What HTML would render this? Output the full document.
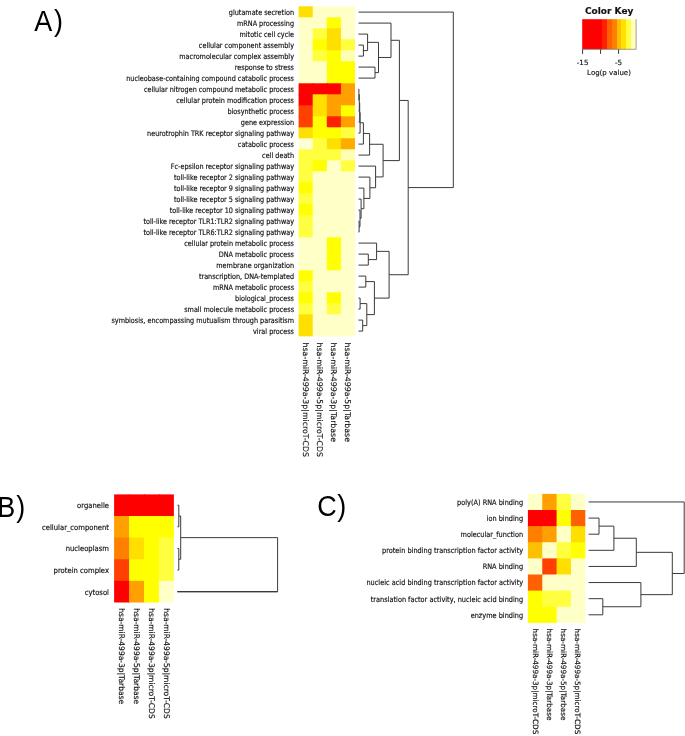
<!DOCTYPE html>
<html><head><meta charset="utf-8"><title>Figure</title>
<style>
html,body{margin:0;padding:0;background:#fff;}
body{width:685px;height:736px;overflow:hidden;}
svg{display:block;}
.c{font-family:"DejaVu Sans Condensed","DejaVu Sans","Liberation Sans",sans-serif;fill:#111;stroke:#111;stroke-width:0.15px;}
.n{font-family:"DejaVu Sans","Liberation Sans",sans-serif;fill:#111;stroke:#111;stroke-width:0.15px;}
.b{font-family:"Liberation Sans","DejaVu Sans",sans-serif;fill:#000;}
</style></head><body>
<svg width="685" height="736" viewBox="0 0 685 736">
<rect x="0" y="0" width="685" height="736" fill="#ffffff"/>
<g>
<rect x="298.60" y="6.30" width="15.10" height="12.00" fill="#FFDF00"/>
<rect x="312.70" y="6.30" width="15.10" height="12.00" fill="#FFFFC8"/>
<rect x="326.80" y="6.30" width="15.10" height="12.00" fill="#FFFFC8"/>
<rect x="340.90" y="6.30" width="14.10" height="12.00" fill="#FFFFC8"/>
<rect x="298.60" y="17.30" width="15.10" height="12.00" fill="#FFFFC8"/>
<rect x="312.70" y="17.30" width="15.10" height="12.00" fill="#FFFFC8"/>
<rect x="326.80" y="17.30" width="15.10" height="12.00" fill="#FFFF00"/>
<rect x="340.90" y="17.30" width="14.10" height="12.00" fill="#FFFFC8"/>
<rect x="298.60" y="28.30" width="15.10" height="12.00" fill="#FFFFC8"/>
<rect x="312.70" y="28.30" width="15.10" height="12.00" fill="#FFFF40"/>
<rect x="326.80" y="28.30" width="15.10" height="12.00" fill="#FFDF00"/>
<rect x="340.90" y="28.30" width="14.10" height="12.00" fill="#FFFFC8"/>
<rect x="298.60" y="39.30" width="15.10" height="12.00" fill="#FFFFC8"/>
<rect x="312.70" y="39.30" width="15.10" height="12.00" fill="#FFFF00"/>
<rect x="326.80" y="39.30" width="15.10" height="12.00" fill="#FFDF00"/>
<rect x="340.90" y="39.30" width="14.10" height="12.00" fill="#FFFF40"/>
<rect x="298.60" y="50.30" width="15.10" height="12.00" fill="#FFFFC8"/>
<rect x="312.70" y="50.30" width="15.10" height="12.00" fill="#FFFF40"/>
<rect x="326.80" y="50.30" width="15.10" height="12.00" fill="#FFFF00"/>
<rect x="340.90" y="50.30" width="14.10" height="12.00" fill="#FFFFB4"/>
<rect x="298.60" y="61.30" width="15.10" height="12.00" fill="#FFFFC8"/>
<rect x="312.70" y="61.30" width="15.10" height="12.00" fill="#FFFFC8"/>
<rect x="326.80" y="61.30" width="15.10" height="12.00" fill="#FFFF00"/>
<rect x="340.90" y="61.30" width="14.10" height="12.00" fill="#FFFF00"/>
<rect x="298.60" y="72.30" width="15.10" height="12.00" fill="#FFFFC8"/>
<rect x="312.70" y="72.30" width="15.10" height="12.00" fill="#FFFFC8"/>
<rect x="326.80" y="72.30" width="15.10" height="12.00" fill="#FFFF00"/>
<rect x="340.90" y="72.30" width="14.10" height="12.00" fill="#FFFF00"/>
<rect x="298.60" y="83.30" width="15.10" height="12.00" fill="#FF0000"/>
<rect x="312.70" y="83.30" width="15.10" height="12.00" fill="#FF0000"/>
<rect x="326.80" y="83.30" width="15.10" height="12.00" fill="#FF0000"/>
<rect x="340.90" y="83.30" width="14.10" height="12.00" fill="#FFA000"/>
<rect x="298.60" y="94.30" width="15.10" height="12.00" fill="#FF0000"/>
<rect x="312.70" y="94.30" width="15.10" height="12.00" fill="#FFDF00"/>
<rect x="326.80" y="94.30" width="15.10" height="12.00" fill="#FFA000"/>
<rect x="340.90" y="94.30" width="14.10" height="12.00" fill="#FFA000"/>
<rect x="298.60" y="105.30" width="15.10" height="12.00" fill="#FF4000"/>
<rect x="312.70" y="105.30" width="15.10" height="12.00" fill="#FFDF00"/>
<rect x="326.80" y="105.30" width="15.10" height="12.00" fill="#FFA000"/>
<rect x="340.90" y="105.30" width="14.10" height="12.00" fill="#FFFF00"/>
<rect x="298.60" y="116.30" width="15.10" height="12.00" fill="#FF4000"/>
<rect x="312.70" y="116.30" width="15.10" height="12.00" fill="#FFFF00"/>
<rect x="326.80" y="116.30" width="15.10" height="12.00" fill="#FF2000"/>
<rect x="340.90" y="116.30" width="14.10" height="12.00" fill="#FFA000"/>
<rect x="298.60" y="127.30" width="15.10" height="12.00" fill="#FFDF00"/>
<rect x="312.70" y="127.30" width="15.10" height="12.00" fill="#FFFF00"/>
<rect x="326.80" y="127.30" width="15.10" height="12.00" fill="#FFFF00"/>
<rect x="340.90" y="127.30" width="14.10" height="12.00" fill="#FFFF40"/>
<rect x="298.60" y="138.30" width="15.10" height="12.00" fill="#FFFFD4"/>
<rect x="312.70" y="138.30" width="15.10" height="12.00" fill="#FFFF40"/>
<rect x="326.80" y="138.30" width="15.10" height="12.00" fill="#FFDF00"/>
<rect x="340.90" y="138.30" width="14.10" height="12.00" fill="#FFAC00"/>
<rect x="298.60" y="149.30" width="15.10" height="12.00" fill="#FFFF40"/>
<rect x="312.70" y="149.30" width="15.10" height="12.00" fill="#FFFF40"/>
<rect x="326.80" y="149.30" width="15.10" height="12.00" fill="#FFFF40"/>
<rect x="340.90" y="149.30" width="14.10" height="12.00" fill="#FFFFB4"/>
<rect x="298.60" y="160.30" width="15.10" height="12.00" fill="#FFFF40"/>
<rect x="312.70" y="160.30" width="15.10" height="12.00" fill="#FFFF00"/>
<rect x="326.80" y="160.30" width="15.10" height="12.00" fill="#FFFFC8"/>
<rect x="340.90" y="160.30" width="14.10" height="12.00" fill="#FFFF40"/>
<rect x="298.60" y="171.30" width="15.10" height="12.00" fill="#FFFF40"/>
<rect x="312.70" y="171.30" width="15.10" height="12.00" fill="#FFFFC8"/>
<rect x="326.80" y="171.30" width="15.10" height="12.00" fill="#FFFFC8"/>
<rect x="340.90" y="171.30" width="14.10" height="12.00" fill="#FFFFC8"/>
<rect x="298.60" y="182.30" width="15.10" height="12.00" fill="#FFFF00"/>
<rect x="312.70" y="182.30" width="15.10" height="12.00" fill="#FFFFC8"/>
<rect x="326.80" y="182.30" width="15.10" height="12.00" fill="#FFFFC8"/>
<rect x="340.90" y="182.30" width="14.10" height="12.00" fill="#FFFFC8"/>
<rect x="298.60" y="193.30" width="15.10" height="12.00" fill="#FFFF40"/>
<rect x="312.70" y="193.30" width="15.10" height="12.00" fill="#FFFFC8"/>
<rect x="326.80" y="193.30" width="15.10" height="12.00" fill="#FFFFC8"/>
<rect x="340.90" y="193.30" width="14.10" height="12.00" fill="#FFFFC8"/>
<rect x="298.60" y="204.30" width="15.10" height="12.00" fill="#FFFF00"/>
<rect x="312.70" y="204.30" width="15.10" height="12.00" fill="#FFFFC8"/>
<rect x="326.80" y="204.30" width="15.10" height="12.00" fill="#FFFFC8"/>
<rect x="340.90" y="204.30" width="14.10" height="12.00" fill="#FFFFC8"/>
<rect x="298.60" y="215.30" width="15.10" height="12.00" fill="#FFFF40"/>
<rect x="312.70" y="215.30" width="15.10" height="12.00" fill="#FFFFC8"/>
<rect x="326.80" y="215.30" width="15.10" height="12.00" fill="#FFFFC8"/>
<rect x="340.90" y="215.30" width="14.10" height="12.00" fill="#FFFFC8"/>
<rect x="298.60" y="226.30" width="15.10" height="12.00" fill="#FFFF40"/>
<rect x="312.70" y="226.30" width="15.10" height="12.00" fill="#FFFFC8"/>
<rect x="326.80" y="226.30" width="15.10" height="12.00" fill="#FFFFC8"/>
<rect x="340.90" y="226.30" width="14.10" height="12.00" fill="#FFFFC8"/>
<rect x="298.60" y="237.30" width="15.10" height="12.00" fill="#FFFFC8"/>
<rect x="312.70" y="237.30" width="15.10" height="12.00" fill="#FFFFC8"/>
<rect x="326.80" y="237.30" width="15.10" height="12.00" fill="#FFFF00"/>
<rect x="340.90" y="237.30" width="14.10" height="12.00" fill="#FFFFC8"/>
<rect x="298.60" y="248.30" width="15.10" height="12.00" fill="#FFFFC8"/>
<rect x="312.70" y="248.30" width="15.10" height="12.00" fill="#FFFFC8"/>
<rect x="326.80" y="248.30" width="15.10" height="12.00" fill="#FFFF00"/>
<rect x="340.90" y="248.30" width="14.10" height="12.00" fill="#FFFFC8"/>
<rect x="298.60" y="259.30" width="15.10" height="12.00" fill="#FFFFC8"/>
<rect x="312.70" y="259.30" width="15.10" height="12.00" fill="#FFFFC8"/>
<rect x="326.80" y="259.30" width="15.10" height="12.00" fill="#FFFF00"/>
<rect x="340.90" y="259.30" width="14.10" height="12.00" fill="#FFFFC8"/>
<rect x="298.60" y="270.30" width="15.10" height="12.00" fill="#FFFF00"/>
<rect x="312.70" y="270.30" width="15.10" height="12.00" fill="#FFFFC8"/>
<rect x="326.80" y="270.30" width="15.10" height="12.00" fill="#FFFFC8"/>
<rect x="340.90" y="270.30" width="14.10" height="12.00" fill="#FFFFC8"/>
<rect x="298.60" y="281.30" width="15.10" height="12.00" fill="#FFFF40"/>
<rect x="312.70" y="281.30" width="15.10" height="12.00" fill="#FFFFC8"/>
<rect x="326.80" y="281.30" width="15.10" height="12.00" fill="#FFFFC8"/>
<rect x="340.90" y="281.30" width="14.10" height="12.00" fill="#FFFFC8"/>
<rect x="298.60" y="292.30" width="15.10" height="12.00" fill="#FFFF00"/>
<rect x="312.70" y="292.30" width="15.10" height="12.00" fill="#FFFFC8"/>
<rect x="326.80" y="292.30" width="15.10" height="12.00" fill="#FFFF00"/>
<rect x="340.90" y="292.30" width="14.10" height="12.00" fill="#FFFFC8"/>
<rect x="298.60" y="303.30" width="15.10" height="12.00" fill="#FFFF40"/>
<rect x="312.70" y="303.30" width="15.10" height="12.00" fill="#FFFFC8"/>
<rect x="326.80" y="303.30" width="15.10" height="12.00" fill="#FFFF40"/>
<rect x="340.90" y="303.30" width="14.10" height="12.00" fill="#FFFFC8"/>
<rect x="298.60" y="314.30" width="15.10" height="12.00" fill="#FFDF00"/>
<rect x="312.70" y="314.30" width="15.10" height="12.00" fill="#FFFFC8"/>
<rect x="326.80" y="314.30" width="15.10" height="12.00" fill="#FFFFC8"/>
<rect x="340.90" y="314.30" width="14.10" height="12.00" fill="#FFFFC8"/>
<rect x="298.60" y="325.30" width="15.10" height="11.00" fill="#FFDF00"/>
<rect x="312.70" y="325.30" width="15.10" height="11.00" fill="#FFFFC8"/>
<rect x="326.80" y="325.30" width="15.10" height="11.00" fill="#FFFFC8"/>
<rect x="340.90" y="325.30" width="14.10" height="11.00" fill="#FFFFC8"/>
</g>
<text transform="translate(294.00,14.70) scale(0.949,1)" text-anchor="end" font-size="7.6" class="c">glutamate secretion</text>
<text transform="translate(294.00,25.70) scale(0.949,1)" text-anchor="end" font-size="7.6" class="c">mRNA processing</text>
<text transform="translate(294.00,36.70) scale(0.949,1)" text-anchor="end" font-size="7.6" class="c">mitotic cell cycle</text>
<text transform="translate(294.00,47.70) scale(0.949,1)" text-anchor="end" font-size="7.6" class="c">cellular component assembly</text>
<text transform="translate(294.00,58.70) scale(0.949,1)" text-anchor="end" font-size="7.6" class="c">macromolecular complex assembly</text>
<text transform="translate(294.00,69.70) scale(0.949,1)" text-anchor="end" font-size="7.6" class="c">response to stress</text>
<text transform="translate(294.00,80.70) scale(0.949,1)" text-anchor="end" font-size="7.6" class="c">nucleobase-containing compound catabolic process</text>
<text transform="translate(294.00,91.70) scale(0.949,1)" text-anchor="end" font-size="7.6" class="c">cellular nitrogen compound metabolic process</text>
<text transform="translate(294.00,102.70) scale(0.949,1)" text-anchor="end" font-size="7.6" class="c">cellular protein modification process</text>
<text transform="translate(294.00,113.70) scale(0.949,1)" text-anchor="end" font-size="7.6" class="c">biosynthetic process</text>
<text transform="translate(294.00,124.70) scale(0.949,1)" text-anchor="end" font-size="7.6" class="c">gene expression</text>
<text transform="translate(294.00,135.70) scale(0.949,1)" text-anchor="end" font-size="7.6" class="c">neurotrophin TRK receptor signaling pathway</text>
<text transform="translate(294.00,146.70) scale(0.949,1)" text-anchor="end" font-size="7.6" class="c">catabolic process</text>
<text transform="translate(294.00,157.70) scale(0.949,1)" text-anchor="end" font-size="7.6" class="c">cell death</text>
<text transform="translate(294.00,168.70) scale(0.949,1)" text-anchor="end" font-size="7.6" class="c">Fc-epsilon receptor signaling pathway</text>
<text transform="translate(294.00,179.70) scale(0.949,1)" text-anchor="end" font-size="7.6" class="c">toll-like receptor 2 signaling pathway</text>
<text transform="translate(294.00,190.70) scale(0.949,1)" text-anchor="end" font-size="7.6" class="c">toll-like receptor 9 signaling pathway</text>
<text transform="translate(294.00,201.70) scale(0.949,1)" text-anchor="end" font-size="7.6" class="c">toll-like receptor 5 signaling pathway</text>
<text transform="translate(294.00,212.70) scale(0.949,1)" text-anchor="end" font-size="7.6" class="c">toll-like receptor 10 signaling pathway</text>
<text transform="translate(294.00,223.70) scale(0.949,1)" text-anchor="end" font-size="7.6" class="c">toll-like receptor TLR1:TLR2 signaling pathway</text>
<text transform="translate(294.00,234.70) scale(0.949,1)" text-anchor="end" font-size="7.6" class="c">toll-like receptor TLR6:TLR2 signaling pathway</text>
<text transform="translate(294.00,245.70) scale(0.949,1)" text-anchor="end" font-size="7.6" class="c">cellular protein metabolic process</text>
<text transform="translate(294.00,256.70) scale(0.949,1)" text-anchor="end" font-size="7.6" class="c">DNA metabolic process</text>
<text transform="translate(294.00,267.70) scale(0.949,1)" text-anchor="end" font-size="7.6" class="c">membrane organization</text>
<text transform="translate(294.00,278.70) scale(0.949,1)" text-anchor="end" font-size="7.6" class="c">transcription, DNA-templated</text>
<text transform="translate(294.00,289.70) scale(0.949,1)" text-anchor="end" font-size="7.6" class="c">mRNA metabolic process</text>
<text transform="translate(294.00,300.70) scale(0.949,1)" text-anchor="end" font-size="7.6" class="c">biological_process</text>
<text transform="translate(294.00,311.70) scale(0.949,1)" text-anchor="end" font-size="7.6" class="c">small molecule metabolic process</text>
<text transform="translate(294.00,322.70) scale(0.949,1)" text-anchor="end" font-size="7.6" class="c">symbiosis, encompassing mutualism through parasitism</text>
<text transform="translate(294.00,333.70) scale(0.949,1)" text-anchor="end" font-size="7.6" class="c">viral process</text>
<text transform="translate(303.00,342.60) rotate(90) scale(1,1)" font-size="7.8" class="n">hsa-miR-499a-3p|microT-CDS</text>
<text transform="translate(317.05,342.60) rotate(90) scale(1,1)" font-size="7.8" class="n">hsa-miR-499a-5p|microT-CDS</text>
<text transform="translate(331.10,342.60) rotate(90) scale(1,1)" font-size="7.8" class="n">hsa-miR-499a-3p|Tarbase</text>
<text transform="translate(345.15,342.60) rotate(90) scale(1,1)" font-size="7.8" class="n">hsa-miR-499a-5p|Tarbase</text>
<path d="M358.50,45.10H363.40V56.10H358.50M358.50,34.10H367.60V50.60H363.40M358.50,67.10H375.00V78.10H358.50M367.60,42.35H378.50V72.60H375.00M358.50,23.10H391.00V57.47H378.50M358.50,89.10H358.90V100.10H358.50M358.90,94.60H359.30V111.10H358.50M359.30,102.85H359.70V122.10H358.50M359.70,112.47H360.10V133.10H358.50M360.10,122.79H363.40V144.10H358.50M363.40,133.44H369.60V155.10H358.50M358.50,221.10H359.10V232.10H358.50M358.50,210.10H360.00V226.60H359.10M358.50,199.10H361.10V218.35H360.00M358.50,188.10H363.90V208.72H361.10M358.50,177.10H369.90V198.41H363.90M358.50,166.10H375.60V187.76H369.90M369.60,144.27H383.10V176.93H375.60M391.00,40.29H399.40V160.60H383.10M358.50,254.10H368.30V265.10H358.50M358.50,243.10H376.60V259.60H368.30M358.50,276.10H365.80V287.10H358.50M358.50,298.10H360.10V309.10H358.50M358.50,320.10H362.70V331.10H358.50M360.10,303.60H366.80V325.60H362.70M365.80,281.60H374.40V314.60H366.80M376.60,251.35H389.10V298.10H374.40M399.40,100.44H408.20V274.73H389.10M358.50,12.10H453.30V187.58H408.20" fill="none" stroke="#3a3a3a" stroke-width="1.0"/>
<defs><linearGradient id="kg" x1="0" x2="1" y1="0" y2="0"><stop offset="0.0000" stop-color="#FF0000"/><stop offset="0.0909" stop-color="#FF0000"/><stop offset="0.0909" stop-color="#FF0000"/><stop offset="0.1818" stop-color="#FF0000"/><stop offset="0.1818" stop-color="#FF0000"/><stop offset="0.2727" stop-color="#FF0000"/><stop offset="0.2727" stop-color="#FF0000"/><stop offset="0.3636" stop-color="#FF0000"/><stop offset="0.3636" stop-color="#FF2000"/><stop offset="0.4545" stop-color="#FF2000"/><stop offset="0.4545" stop-color="#FF6000"/><stop offset="0.5455" stop-color="#FF6000"/><stop offset="0.5455" stop-color="#FF8000"/><stop offset="0.6364" stop-color="#FF8000"/><stop offset="0.6364" stop-color="#FFBF00"/><stop offset="0.7273" stop-color="#FFBF00"/><stop offset="0.7273" stop-color="#FFE000"/><stop offset="0.8182" stop-color="#FFE000"/><stop offset="0.8182" stop-color="#FFFF40"/><stop offset="0.9091" stop-color="#FFFF40"/><stop offset="0.9091" stop-color="#FFFFBF"/><stop offset="1.0000" stop-color="#FFFFBF"/></linearGradient></defs>
<rect x="582.2" y="19.2" width="53.9" height="30.1" fill="url(#kg)"/>
<path d="M582.20,49.30H636.10V19.20" fill="none" stroke="#777" stroke-width="0.7"/>
<path d="M582.60,49.30v4.6M600.60,49.30v4.6M618.60,49.30v4.6" fill="none" stroke="#3a3a3a" stroke-width="1.0"/>
<text x="609.2" y="13.9" text-anchor="middle" font-size="9" font-weight="bold" class="n">Color Key</text>
<text x="582.6" y="65.4" text-anchor="middle" font-size="7.2" class="n">-15</text>
<text x="618.6" y="65.4" text-anchor="middle" font-size="7.2" class="n">-5</text>
<text x="609" y="74.7" text-anchor="middle" font-size="7.0" class="n">Log(p value)</text>
<g>
<rect x="114.10" y="494.40" width="15.95" height="22.62" fill="#FF0000"/>
<rect x="129.05" y="494.40" width="15.95" height="22.62" fill="#FF0000"/>
<rect x="144.00" y="494.40" width="15.95" height="22.62" fill="#FF0000"/>
<rect x="158.95" y="494.40" width="14.95" height="22.62" fill="#FF0000"/>
<rect x="114.10" y="516.02" width="15.95" height="22.62" fill="#FFA000"/>
<rect x="129.05" y="516.02" width="15.95" height="22.62" fill="#FFFF00"/>
<rect x="144.00" y="516.02" width="15.95" height="22.62" fill="#FFFF00"/>
<rect x="158.95" y="516.02" width="14.95" height="22.62" fill="#FFFF00"/>
<rect x="114.10" y="537.64" width="15.95" height="22.62" fill="#FF8000"/>
<rect x="129.05" y="537.64" width="15.95" height="22.62" fill="#FFDF00"/>
<rect x="144.00" y="537.64" width="15.95" height="22.62" fill="#FFFF00"/>
<rect x="158.95" y="537.64" width="14.95" height="22.62" fill="#FFFF40"/>
<rect x="114.10" y="559.26" width="15.95" height="22.62" fill="#FF4000"/>
<rect x="129.05" y="559.26" width="15.95" height="22.62" fill="#FFFF00"/>
<rect x="144.00" y="559.26" width="15.95" height="22.62" fill="#FFFF00"/>
<rect x="158.95" y="559.26" width="14.95" height="22.62" fill="#FFFF40"/>
<rect x="114.10" y="580.88" width="15.95" height="21.62" fill="#FF0000"/>
<rect x="129.05" y="580.88" width="15.95" height="21.62" fill="#FFA000"/>
<rect x="144.00" y="580.88" width="15.95" height="21.62" fill="#FFFF00"/>
<rect x="158.95" y="580.88" width="14.95" height="21.62" fill="#FFFFC8"/>
</g>
<text transform="translate(109.00,508.21) scale(1.0,1)" text-anchor="end" font-size="7.6" class="c">organelle</text>
<text transform="translate(109.00,529.83) scale(1.0,1)" text-anchor="end" font-size="7.6" class="c">cellular_component</text>
<text transform="translate(109.00,551.45) scale(1.0,1)" text-anchor="end" font-size="7.6" class="c">nucleoplasm</text>
<text transform="translate(109.00,573.07) scale(1.0,1)" text-anchor="end" font-size="7.6" class="c">protein complex</text>
<text transform="translate(109.00,594.69) scale(1.0,1)" text-anchor="end" font-size="7.6" class="c">cytosol</text>
<text transform="translate(118.80,608.20) rotate(90) scale(0.968,1)" font-size="7.8" class="n">hsa-miR-499a-3p|Tarbase</text>
<text transform="translate(133.78,608.20) rotate(90) scale(0.968,1)" font-size="7.8" class="n">hsa-miR-499a-5p|Tarbase</text>
<text transform="translate(148.76,608.20) rotate(90) scale(0.968,1)" font-size="7.8" class="n">hsa-miR-499a-3p|microT-CDS</text>
<text transform="translate(163.74,608.20) rotate(90) scale(0.968,1)" font-size="7.8" class="n">hsa-miR-499a-5p|microT-CDS</text>
<path d="M177.40,505.21H178.80V526.83H177.40M177.40,548.45H178.80V570.07H177.40M178.80,516.02H180.70V559.26H178.80M180.70,537.64H277.60V591.69H177.40" fill="none" stroke="#3a3a3a" stroke-width="1.0"/>
<path d="M177.4,591.69H277.6" fill="none" stroke="#3a3a3a" stroke-width="1.3"/>
<g>
<rect x="527.90" y="493.90" width="15.35" height="17.12" fill="#FFFFC8"/>
<rect x="542.25" y="493.90" width="15.35" height="17.12" fill="#FFA000"/>
<rect x="556.60" y="493.90" width="15.35" height="17.12" fill="#FFFF40"/>
<rect x="570.95" y="493.90" width="14.35" height="17.12" fill="#FFFFC8"/>
<rect x="527.90" y="510.02" width="15.35" height="17.12" fill="#FF0000"/>
<rect x="542.25" y="510.02" width="15.35" height="17.12" fill="#FF0000"/>
<rect x="556.60" y="510.02" width="15.35" height="17.12" fill="#FFFF00"/>
<rect x="570.95" y="510.02" width="14.35" height="17.12" fill="#FF6000"/>
<rect x="527.90" y="526.14" width="15.35" height="17.12" fill="#FF8000"/>
<rect x="542.25" y="526.14" width="15.35" height="17.12" fill="#FFA000"/>
<rect x="556.60" y="526.14" width="15.35" height="17.12" fill="#FFFFC8"/>
<rect x="570.95" y="526.14" width="14.35" height="17.12" fill="#FFDF00"/>
<rect x="527.90" y="542.26" width="15.35" height="17.12" fill="#FFC000"/>
<rect x="542.25" y="542.26" width="15.35" height="17.12" fill="#FFFFC8"/>
<rect x="556.60" y="542.26" width="15.35" height="17.12" fill="#FFFF40"/>
<rect x="570.95" y="542.26" width="14.35" height="17.12" fill="#FFFF00"/>
<rect x="527.90" y="558.38" width="15.35" height="17.12" fill="#FFFFC8"/>
<rect x="542.25" y="558.38" width="15.35" height="17.12" fill="#FF4000"/>
<rect x="556.60" y="558.38" width="15.35" height="17.12" fill="#FFDF00"/>
<rect x="570.95" y="558.38" width="14.35" height="17.12" fill="#FFFFC8"/>
<rect x="527.90" y="574.50" width="15.35" height="17.12" fill="#FF6000"/>
<rect x="542.25" y="574.50" width="15.35" height="17.12" fill="#FFFFC8"/>
<rect x="556.60" y="574.50" width="15.35" height="17.12" fill="#FFFFC8"/>
<rect x="570.95" y="574.50" width="14.35" height="17.12" fill="#FFFFC8"/>
<rect x="527.90" y="590.62" width="15.35" height="17.12" fill="#FFFF00"/>
<rect x="542.25" y="590.62" width="15.35" height="17.12" fill="#FFFF40"/>
<rect x="556.60" y="590.62" width="15.35" height="17.12" fill="#FFFF40"/>
<rect x="570.95" y="590.62" width="14.35" height="17.12" fill="#FFFFC8"/>
<rect x="527.90" y="606.74" width="15.35" height="16.12" fill="#FFFF00"/>
<rect x="542.25" y="606.74" width="15.35" height="16.12" fill="#FFFF00"/>
<rect x="556.60" y="606.74" width="15.35" height="16.12" fill="#FFFFC8"/>
<rect x="570.95" y="606.74" width="14.35" height="16.12" fill="#FFFFC8"/>
</g>
<text transform="translate(523.10,504.86) scale(0.96,1)" text-anchor="end" font-size="7.6" class="c">poly(A) RNA binding</text>
<text transform="translate(523.10,520.98) scale(0.96,1)" text-anchor="end" font-size="7.6" class="c">ion binding</text>
<text transform="translate(523.10,537.10) scale(0.96,1)" text-anchor="end" font-size="7.6" class="c">molecular_function</text>
<text transform="translate(523.10,553.22) scale(0.96,1)" text-anchor="end" font-size="7.6" class="c">protein binding transcription factor activity</text>
<text transform="translate(523.10,569.34) scale(0.96,1)" text-anchor="end" font-size="7.6" class="c">RNA binding</text>
<text transform="translate(523.10,585.46) scale(0.96,1)" text-anchor="end" font-size="7.6" class="c">nucleic acid binding transcription factor activity</text>
<text transform="translate(523.10,601.58) scale(0.96,1)" text-anchor="end" font-size="7.6" class="c">translation factor activity, nucleic acid binding</text>
<text transform="translate(523.10,617.70) scale(0.96,1)" text-anchor="end" font-size="7.6" class="c">enzyme binding</text>
<text transform="translate(532.50,628.60) rotate(90) scale(0.982,1)" font-size="7.35" class="n">hsa-miR-499a-3p|microT-CDS</text>
<text transform="translate(546.80,628.60) rotate(90) scale(0.982,1)" font-size="7.35" class="n">hsa-miR-499a-3p|Tarbase</text>
<text transform="translate(561.10,628.60) rotate(90) scale(0.982,1)" font-size="7.35" class="n">hsa-miR-499a-5p|Tarbase</text>
<text transform="translate(575.40,628.60) rotate(90) scale(0.982,1)" font-size="7.35" class="n">hsa-miR-499a-5p|microT-CDS</text>
<path d="M588.60,518.08H599.00V534.20H588.60M599.00,526.14H613.90V550.32H588.60M613.90,538.23H636.30V566.44H588.60M588.60,598.68H602.80V614.80H588.60M588.60,582.56H640.90V606.74H602.80M636.30,552.33H672.30V594.65H640.90M588.60,501.96H684.20V573.49H672.30" fill="none" stroke="#3a3a3a" stroke-width="1.0"/>
<text transform="translate(34.30,30.90) scale(0.94,1)" font-size="28.7" class="b">A</text>
<text transform="translate(54.00,30.90) scale(0.94,1)" font-size="28.7" class="b">)</text>
<text transform="translate(-2.70,516.70) scale(0.94,1)" font-size="28.7" class="b">B</text>
<text transform="translate(16.30,516.70) scale(0.94,1)" font-size="28.7" class="b">)</text>
<text transform="translate(317.20,515.90) scale(0.94,1)" font-size="28.7" class="b">C</text>
<text transform="translate(337.30,515.90) scale(0.94,1)" font-size="28.7" class="b">)</text>
</svg>
</body></html>
